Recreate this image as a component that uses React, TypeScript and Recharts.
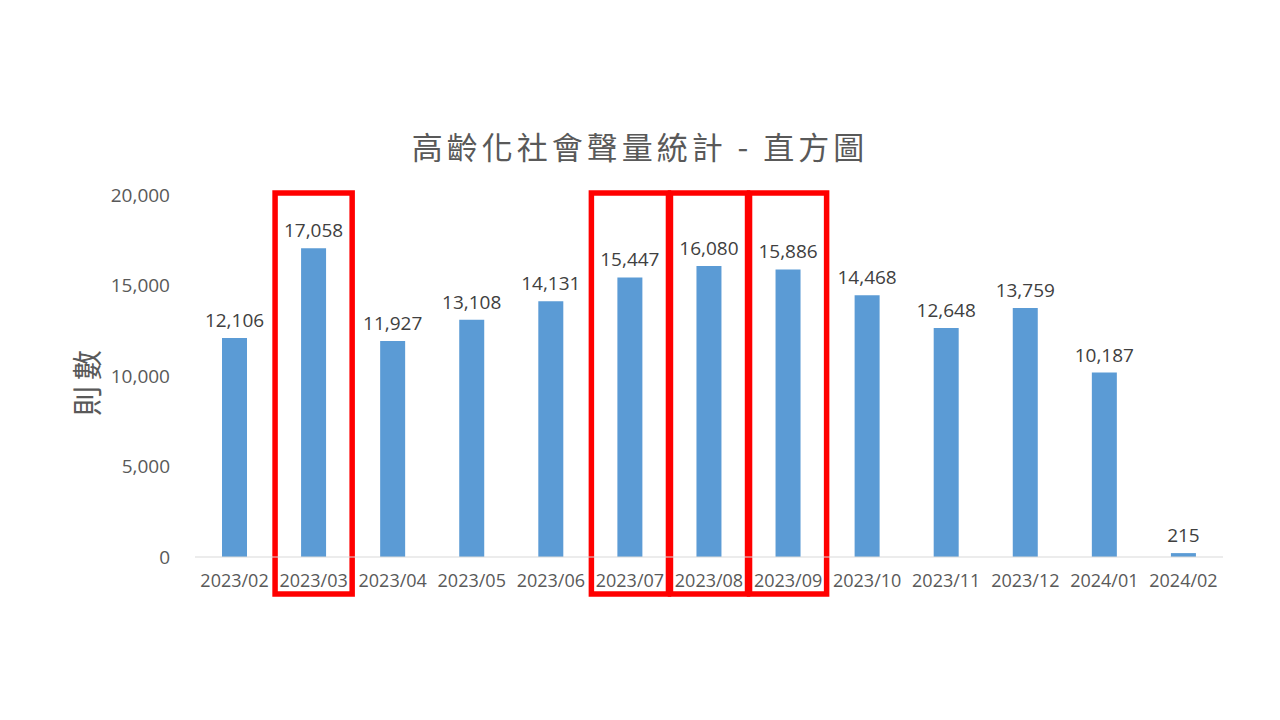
import React from 'react';
import { BarChart, Bar, XAxis, YAxis, LabelList, ReferenceArea } from 'recharts';

const months = ['2023/02', '2023/03', '2023/04', '2023/05', '2023/06', '2023/07', '2023/08', '2023/09', '2023/10', '2023/11', '2023/12', '2024/01', '2024/02'];
const counts = [12106, 17058, 11927, 13108, 14131, 15447, 16080, 15886, 14468, 12648, 13759, 10187, 215];
const highlighted = ['2023/03', '2023/07', '2023/08', '2023/09'];
const yTicks = [0, 5000, 10000, 15000, 20000];
const title = '高齡化社會聲量統計 - 直方圖';
const yLabel = '則數';

const data = months.map((m, i) => ({ month: m, count: counts[i] }));

const fmt = (v: number) => v.toLocaleString('en-US');
const latin = '"Open Sans", "Noto Sans", sans-serif';
const cjk = '"Noto Sans CJK TC", "Noto Sans CJK SC", sans-serif';

const BoxShape = (props: any) => {
  const { x, y, width, height } = props;
  if (x == null || y == null) return null;
  return (
    <rect
      x={x + 1}
      y={y - 2}
      width={width - 2}
      height={height + 39}
      fill="none"
      stroke="#FF0000"
      strokeWidth={5.5}
    />
  );
};

export default function App() {
  return (
    <div style={{ position: 'absolute', left: 0, top: 0, width: 1280, height: 720, background: '#fff' }}>
      <div
        style={{
          position: 'absolute',
          left: 0,
          top: 124,
          width: 1280,
          textAlign: 'center',
          fontFamily: cjk,
          fontSize: 31,
          color: '#595959',
          letterSpacing: 4,
          lineHeight: '44px',
        }}
      >
        {title}
      </div>
      <div
        style={{
          position: 'absolute',
          left: 85,
          top: 380,
          transform: 'translate(-50%, -50%) rotate(-90deg)',
          fontFamily: cjk,
          fontSize: 30,
          color: '#595959',
          letterSpacing: 6,
          whiteSpace: 'nowrap',
        }}
      >
        {yLabel}
      </div>
      <div style={{ position: 'absolute', left: 0, top: 0 }}>
        <BarChart width={1280} height={720} data={data} margin={{ top: 195, right: 57, bottom: 133, left: 0 }}>
          <XAxis
            dataKey="month"
            height={30}
            axisLine={{ stroke: '#D9D9D9', strokeWidth: 1 }}
            tickLine={false}
            tickSize={0}
            tickMargin={17}
            interval={0}
            tick={{ fill: '#595959', fontSize: 18, fontFamily: latin }}
          />
          <YAxis
            width={195}
            domain={[0, 20000]}
            ticks={yTicks}
            axisLine={false}
            tickLine={false}
            tickSize={0}
            tickMargin={25}
            tickFormatter={fmt}
            tick={{ fill: '#595959', fontSize: 19, fontFamily: latin }}
          />
          <Bar dataKey="count" fill="#5B9BD5" barSize={25} isAnimationActive={false}>
            <LabelList
              dataKey="count"
              position="top"
              offset={11}
              formatter={(v: any) => fmt(Number(v))}
              style={{ fill: '#404040', fontSize: 19, fontFamily: latin }}
            />
          </Bar>
          {highlighted.map((m) => (
            <ReferenceArea key={m} x1={m} x2={m} ifOverflow="visible" shape={<BoxShape />} />
          ))}
        </BarChart>
      </div>
    </div>
  );
}
